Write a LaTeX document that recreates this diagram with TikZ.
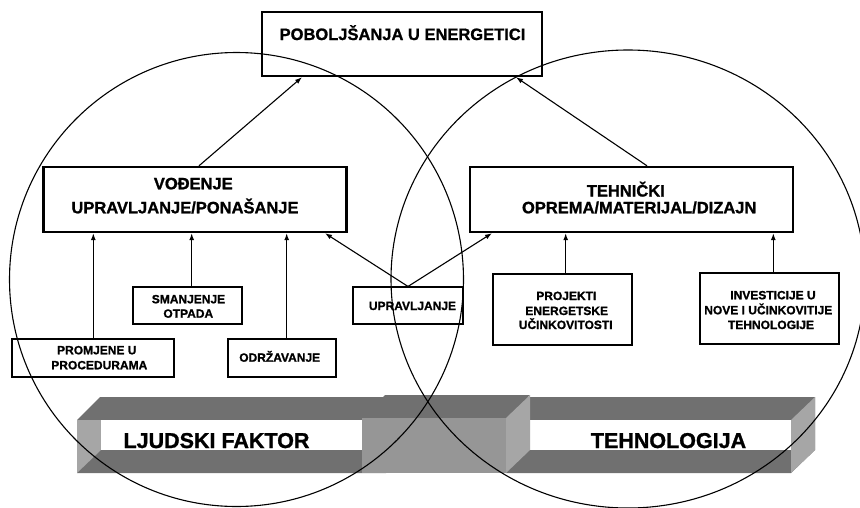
\documentclass[tikz,border=0pt]{standalone}
\usepackage{fontspec}
\setmainfont{Liberation Sans}[BoldFont={Liberation Sans Bold}, BoldFeatures={FakeBold=1.2}]
\usetikzlibrary{arrows.meta}
\definecolor{bardark}{HTML}{707070}
\definecolor{barlight}{HTML}{A6A6A6}
\definecolor{barmid}{HTML}{969696}
\begin{document}
\begin{tikzpicture}[x=1pt,y=-1pt,
  bigbox/.style={draw, line width=2.4pt, inner sep=0pt},
  smallbox/.style={draw, line width=1.1pt, inner sep=0pt},
  bigtxt/.style={anchor=base, inner sep=0pt, font=\fontsize{16.5}{19}\selectfont\bfseries},
  smalltxt/.style={anchor=base, inner sep=0pt, font=\fontsize{12}{14}\selectfont\bfseries},
  bartxt/.style={anchor=base, inner sep=0pt, font=\fontsize{21.5}{25}\selectfont\bfseries},
  arr/.style={line width=1.1pt, -{Latex[length=7pt,width=5pt]}},
  ring/.style={line width=1.1pt},
]
\useasboundingbox (0,0) rectangle (860,507);
\begin{scope}
\clip (0,0) rectangle (860,507);

% ---- bars ----
% left beam
\fill[bardark] (77,420) -- (100,397) -- (386,397) -- (386,473) -- (77,473) -- cycle;
\fill[barlight] (77,420) -- (101,420) -- (101,450) -- (77,473) -- cycle;
\fill[white] (101,420) rectangle (362,450);
% right beam
\fill[bardark] (506,397) -- (815,397) -- (815,450) -- (791,473) -- (506,473) -- cycle;
\fill[white] (530,420) rectangle (791,450);
\fill[barlight] (791,420) -- (815,397) -- (815,450) -- (791,473) -- cycle;
% middle block
\fill[bardark] (362,418) -- (385,395) -- (530,395) -- (506,418) -- cycle;
\fill[barmid] (362,418) rectangle (506,473);
\fill[barlight] (506,418) -- (530,395) -- (530,450) -- (506,473) -- cycle;

\node[bartxt] (ljf) at (216.5,448) {LJUDSKI FAKTOR};
\node[bartxt] (teht) at (668.5,448) {TEHNOLOGIJA};

% ---- boxes ----
\node[bigbox, minimum width=280pt, minimum height=64pt] (top) at (402,44) {};
\node[bigbox, minimum width=303pt, minimum height=65pt] (voc) at (195,199.5) {};
\node[bigbox, minimum width=323pt, minimum height=65pt] (teh) at (631.5,199.5) {};

\node[smallbox, minimum width=109pt, minimum height=37pt] (smanj) at (187.5,305.5) {};
\node[smallbox, minimum width=162pt, minimum height=38pt] (prom) at (93,358) {};
\node[smallbox, minimum width=108pt, minimum height=38pt] (odr) at (282,358) {};
\node[smallbox, minimum width=110pt, minimum height=37pt] (upr) at (408,305.5) {};
\node[smallbox, minimum width=139pt, minimum height=71pt] (proj) at (562.5,309.5) {};
\node[smallbox, minimum width=139pt, minimum height=71pt] (inv) at (769.5,308.5) {};

% ---- texts ----
\node[bigtxt] (topt) at (402.5,40) {POBOLJŠANJA U ENERGETICI};
\node[bigtxt] (voct1) at (193.3,189.3) {VOĐENJE};
\node[bigtxt] (voct2) at (185,213.3) {UPRAVLJANJE/PONAŠANJE};
\node[bigtxt] (teht1) at (625.8,196.5) {TEHNIČKI};
\node[bigtxt] (teht2) at (639.2,213.3) {OPREMA/MATERIJAL/DIZAJN};

\node[smalltxt] (smt1) at (188.5,303.3) {SMANJENJE};
\node[smalltxt] (smt2) at (188.3,317.7) {OTPADA};
\node[smalltxt] (prt1) at (96.8,354.3) {PROMJENE U};
\node[smalltxt] (prt2) at (99.3,369.3) {PROCEDURAMA};
\node[smalltxt] (odt) at (279.7,361.7) {ODRŽAVANJE};
\node[smalltxt] (upt) at (412.5,310) {UPRAVLJANJE};
\node[smalltxt] (pjt1) at (566.3,300) {PROJEKTI};
\node[smalltxt] (pjt2) at (566.7,315) {ENERGETSKE};
\node[smalltxt] (pjt3) at (565.7,329) {UČINKOVITOSTI};
\node[smalltxt] (ivt1) at (773,299.3) {INVESTICIJE U};
\node[smalltxt] (ivt2) at (768.3,314.3) {NOVE I UČINKOVITIJE};
\node[smalltxt] (ivt3) at (771,329) {TEHNOLOGIJE};

% ---- arrows ----
\draw[arr] ([xshift=4pt]voc.north) -- ([xshift=-100pt]top.south);
\draw[arr] ([xshift=15.5pt]teh.north) -- ([xshift=114pt]top.south);
\draw[arr] (upr.north) -- ([xshift=130pt]voc.south);
\draw[arr] (upr.north) -- ([xshift=-139.5pt]teh.south);
\draw[arr] ([xshift=0.3pt]prom.north) -- ([xshift=0.3pt]prom.north |- voc.south);
\draw[arr] ([xshift=4.2pt]smanj.north) -- ([xshift=4.2pt]smanj.north |- voc.south);
\draw[arr] ([xshift=4.7pt]odr.north) -- ([xshift=4.7pt]odr.north |- voc.south);
\draw[arr] ([xshift=3.2pt]proj.north) -- ([xshift=3.2pt]proj.north |- teh.south);
\draw[arr] ([xshift=3.8pt]inv.north) -- ([xshift=3.8pt]inv.north |- teh.south);

% ---- circles ----
\draw[ring] (236.5,279.5) circle [radius=227pt];
\draw[ring] (628,279) ellipse [x radius=237pt, y radius=229pt];
\end{scope}
\end{tikzpicture}
\end{document}
